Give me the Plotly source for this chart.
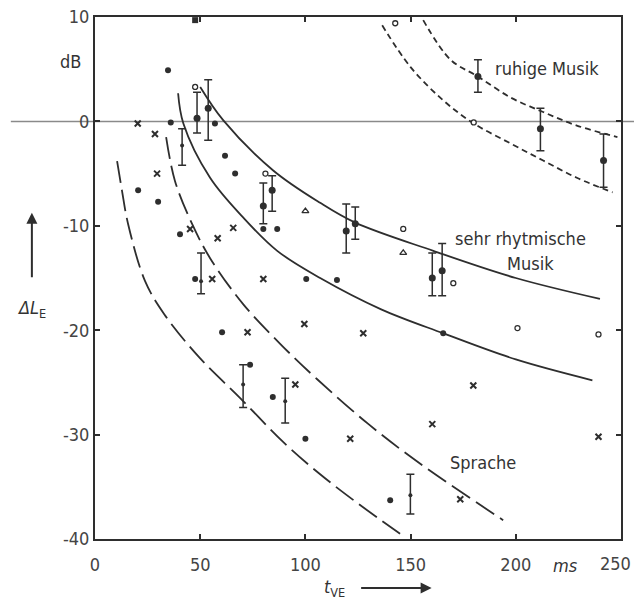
import plotly.graph_objects as go

# ---- curves (t_VE in ms, Delta L_E in dB) ----
ruhig_hi_x = [156, 169, 182, 197.4, 213, 229, 248.3]
ruhig_hi_y = [9.7, 5.9, 4.3, 2.3, 0.9, -0.4, -1.5]
ruhig_lo_x = [136.5, 150, 165.6, 180, 197.4, 213, 229, 246]
ruhig_lo_y = [9.2, 5.2, 2.0, -0.2, -2.1, -3.75, -5.4, -6.8]

rhyth_hi_x = [50, 61, 84.7, 107, 123.7, 160.8, 200, 240]
rhyth_hi_y = [3.3, 0.1, -4.7, -7.8, -9.7, -12.4, -15.0, -17.0]
rhyth_lo_x = [39.5, 42, 54.7, 70.4, 86.6, 107, 136, 165.6, 200, 236.4]
rhyth_lo_y = [2.7, -0.2, -5.4, -9.2, -12.4, -15.0, -18.0, -20.3, -22.8, -24.8]

sprache_hi_x = [33.8, 38, 46.1, 54.7, 70.4, 88, 105.6, 130, 154.6, 194]
sprache_hi_y = [-1.5, -5.7, -9.8, -13.1, -17.5, -21.3, -24.7, -29.0, -32.8, -38.2]
sprache_lo_x = [10.5, 12.8, 15.7, 23.8, 33, 50, 69, 89.4, 107, 125, 145]
sprache_lo_y = [-3.8, -6.6, -9.8, -15.3, -18.5, -22.7, -26.5, -30.7, -33.8, -36.6, -39.5]

# ---- mean values with spread ----
ruhig_x = [182, 211.7, 241.7]
ruhig_y = [4.3, -0.7, -3.75]
ruhig_top = [5.9, 1.25, -1.2]
ruhig_bot = [2.8, -2.8, -6.3]

rhyth_x = [48.5, 53.8, 80, 84.2, 119.4, 123.7, 160.3, 165]
rhyth_y = [0.3, 1.25, -8.1, -6.6, -10.5, -9.8, -15.0, -14.3]
rhyth_top = [2.8, 4.0, -5.9, -5.2, -7.9, -8.2, -12.6, -11.7]
rhyth_bot = [-1.1, -1.8, -9.8, -8.6, -12.6, -11.3, -16.7, -16.7]

spr_x = [41.4, 50.4, 70.4, 90.4, 149.9]
spr_y = [-2.3, -15.3, -25.2, -26.8, -35.8]
spr_top = [-0.7, -12.6, -23.3, -24.6, -33.8]
spr_bot = [-4.2, -16.5, -27.4, -28.9, -37.6]

# ---- single judgements ----
dot_x = [34.7, 36, 57, 20.5, 30, 40.4, 61.8, 66.6, 80, 86.6, 100.4, 115, 47.6,
         60.4, 73.7, 84.5, 100, 140.3, 165.5]
dot_y = [4.9, -0.1, -0.2, -6.6, -7.7, -10.8, -3.3, -5.0, -10.3, -10.3, -15.1, -15.2,
         -15.1, -20.2, -23.3, -26.4, -30.4, -36.3, -20.3]
sq_x = [47.6]
sq_y = [9.7]
cross_x = [20.3, 28.5, 29.5, 45.2, 58.3, 65.7, 55.7, 80, 72.5, 99.5, 95.2, 127.5,
           121.3, 160.3, 179.8, 173.6, 239.3]
cross_y = [-0.2, -1.2, -5.0, -10.3, -11.2, -10.2, -15.1, -15.1, -20.2, -19.4, -25.2,
           -20.3, -30.4, -29.0, -25.3, -36.2, -30.2]
ring_x = [81, 47.6, 142.7, 180, 146.5, 170.3, 200.8, 239.3]
ring_y = [-5.0, 3.3, 9.4, -0.1, -10.3, -15.5, -19.8, -20.4]
tri_x = [100, 146.5]
tri_y = [-8.6, -12.6]

x_ticks = [0, 50, 100, 150, 200, 250]
x_ticktext = ["0", "50", "100", "150", "200", "250"]
y_ticks = [-40, -30, -20, -10, 0, 10]
y_ticktext = ["-40", "-30", "-20", "-10", "0", "10"]

INK = "#2e2e2e"
FONT = "DejaVu Sans Condensed, Liberation Sans Narrow, DejaVu Sans, sans-serif"

fig = go.Figure()


def curve(x, y, dash):
    fig.add_trace(go.Scatter(x=x, y=y, mode="lines", line_shape="spline",
                             line=dict(color=INK, width=1.8, dash=dash),
                             hoverinfo="skip", showlegend=False))


curve(ruhig_hi_x, ruhig_hi_y, "6px,4px")
curve(ruhig_lo_x, ruhig_lo_y, "6px,4px")
curve(rhyth_hi_x, rhyth_hi_y, "solid")
curve(rhyth_lo_x, rhyth_lo_y, "solid")
curve(sprache_hi_x, sprache_hi_y, "22px,7px")
curve(sprache_lo_x, sprache_lo_y, "22px,7px")


def spread(x, y, top, bot, size):
    fig.add_trace(go.Scatter(
        x=x, y=y, mode="markers",
        marker=dict(color=INK, size=size, symbol="circle"),
        error_y=dict(type="data", symmetric=False,
                     array=[t - v for t, v in zip(top, y)],
                     arrayminus=[v - b for v, b in zip(y, bot)],
                     color=INK, thickness=1.5, width=4),
        showlegend=False))


spread(ruhig_x, ruhig_y, ruhig_top, ruhig_bot, 7)
spread(rhyth_x, rhyth_y, rhyth_top, rhyth_bot, 7)
spread(spr_x, spr_y, spr_top, spr_bot, 4)

fig.add_trace(go.Scatter(x=dot_x, y=dot_y, mode="markers",
                         marker=dict(color=INK, size=6, symbol="circle"),
                         showlegend=False))
fig.add_trace(go.Scatter(x=sq_x, y=sq_y, mode="markers",
                         marker=dict(color=INK, size=6, symbol="square"),
                         showlegend=False))
fig.add_trace(go.Scatter(x=cross_x, y=cross_y, mode="markers",
                         marker=dict(color=INK, size=6, symbol="x-thin-open",
                                     line=dict(color=INK, width=2)),
                         showlegend=False))
fig.add_trace(go.Scatter(x=ring_x, y=ring_y, mode="markers",
                         marker=dict(color="white", size=5, symbol="circle",
                                     line=dict(color=INK, width=1.3)),
                         showlegend=False))
fig.add_trace(go.Scatter(x=tri_x, y=tri_y, mode="markers",
                         marker=dict(color="white", size=6, symbol="triangle-up",
                                     line=dict(color=INK, width=1.3)),
                         showlegend=False))

# 0 dB reference line running across the whole page width
fig.add_shape(type="line", xref="paper", yref="y", x0=-0.16, x1=1.06, y0=0, y1=0,
              line=dict(color="#8a8a8a", width=1.5), layer="below")

txt = dict(family=FONT, size=18, color="#333")
tickfont = dict(family=FONT, size=18, color="#444")
ann = [
    dict(x=189, y=5.1, xref="x", yref="y", text="ruhige Musik", xanchor="left"),
    dict(x=170.3, y=-11.25, xref="x", yref="y", text="sehr rhytmische", xanchor="left"),
    dict(x=195, y=-13.6, xref="x", yref="y", text="Musik", xanchor="left"),
    dict(x=184.6, y=-32.7, xref="x", yref="y", text="Sprache", xanchor="center"),
    dict(x=-0.046, y=5.7, xref="paper", yref="y", text="dB", xanchor="center"),
    dict(x=223.6, y=-0.05, xref="x", yref="paper", text="<i>ms</i>", xanchor="center"),
    dict(x=-0.12, y=0.44, xref="paper", yref="paper",
         text="<i>ΔL</i><sub>E</sub>", xanchor="center"),
    dict(x=0.455, y=-0.093, xref="paper", yref="paper",
         text="<i>t</i><sub>VE</sub>", xanchor="center"),
]
for a in ann:
    a.update(showarrow=False, font=txt, yanchor="middle")
    fig.add_annotation(**a)

# last x tick label sits against the page edge, so it is set right-aligned
fig.add_annotation(x=1.0, y=-0.046, xref="paper", yref="paper", xshift=12,
                   text=x_ticktext[-1], showarrow=False, font=tickfont,
                   xanchor="right", yanchor="middle")
axis_x_text = x_ticktext[:-1] + [""]

# axis arrows
fig.add_annotation(x=-0.12, y=0.625, xref="paper", yref="paper", ax=0, ay=66,
                   text="", showarrow=True, arrowhead=2, arrowsize=1.1,
                   arrowwidth=2, arrowcolor=INK)
fig.add_annotation(x=0.64, y=-0.094, xref="paper", yref="paper", ax=-72, ay=0,
                   text="", showarrow=True, arrowhead=2, arrowsize=1.1,
                   arrowwidth=2, arrowcolor=INK)

axis_common = dict(showgrid=False, zeroline=False, showline=True, mirror="allticks",
                   linecolor=INK, linewidth=2, ticks="inside", ticklen=5,
                   tickcolor=INK, tickwidth=1.5, automargin=False,
                   tickfont=tickfont)

fig.update_layout(
    width=634, height=603,
    margin=dict(l=95, r=13, t=17, b=64, autoexpand=False),
    paper_bgcolor="white", plot_bgcolor="white",
    xaxis=dict(range=[0, 250], tickvals=x_ticks, ticktext=axis_x_text,
               ticklabelstandoff=8, **axis_common),
    yaxis=dict(range=[-40, 10], tickvals=y_ticks, ticktext=y_ticktext, **axis_common),
    showlegend=False,
)

fig.write_html("out.html")
